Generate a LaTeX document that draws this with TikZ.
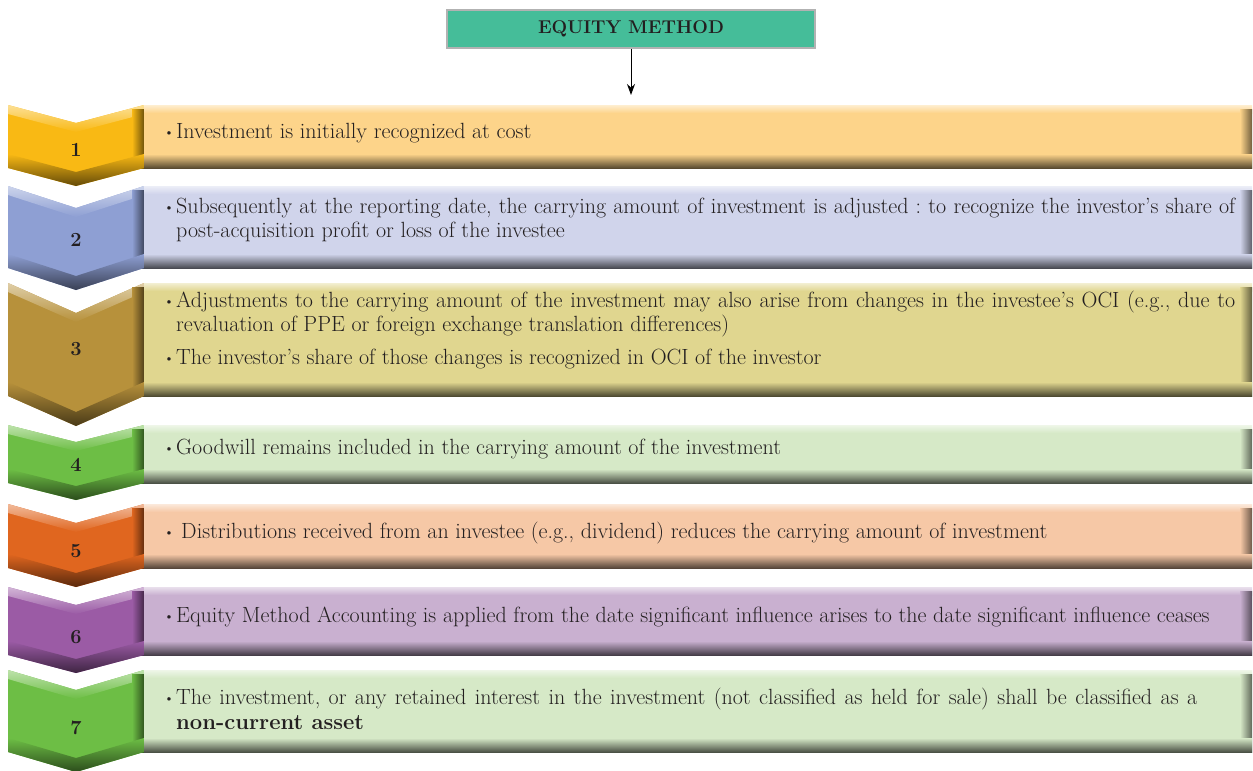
\documentclass[tikz,border=0pt]{standalone}
\usepackage{fontspec}
\usepackage{tikz}
\usetikzlibrary{arrows.meta}

\definecolor{eqgreen}{HTML}{45BD99}
\definecolor{txtgray}{HTML}{231F20}
\definecolor{chevone}{HTML}{F9B914}
\definecolor{boxone}{HTML}{FDD48A}
\definecolor{chevtwo}{HTML}{8E9FD3}
\definecolor{boxtwo}{HTML}{D0D4EB}
\definecolor{chevthree}{HTML}{B7913B}
\definecolor{boxthree}{HTML}{E0D68F}
\definecolor{chevfour}{HTML}{6DBE45}
\definecolor{boxfour}{HTML}{D6E9C7}
\definecolor{chevfive}{HTML}{E0661F}
\definecolor{boxfive}{HTML}{F6C8A6}
\definecolor{chevsix}{HTML}{9B5BA5}
\definecolor{boxsix}{HTML}{C9B0D0}

\newcommand{\bul}{\hangindent=13pt\hangafter=1\noindent
  \makebox[13pt][l]{\hspace{1pt}\raisebox{2pt}{\fontsize{13}{13}\selectfont\textbullet}}}

\tikzset{
  headbox/.style={draw=gray!60,line width=1.5pt,fill=eqgreen,minimum width=368pt,minimum height=38pt,
    inner sep=0pt,text=txtgray,font=\fontsize{18.5}{20}\selectfont\bfseries},
  itemtext/.style={anchor=west,inner sep=0pt,text width=1072pt,align=justify,text=txtgray,
    font=\fontsize{22}{24.5}\selectfont\frenchspacing},
  numtext/.style={text=txtgray,font=\fontsize{20}{22}\selectfont\bfseries}
}

\begin{document}
\begin{tikzpicture}[x=1pt,y=-1pt]
  \useasboundingbox (0,0) rectangle (1253,771);
  %\draw[color=gray,step=10pt,help lines,opacity=0.3] (0,0) grid (1253,771); %help grid
  \node[headbox] (eq) at (631,29) {EQUITY METHOD};
  \coordinate (arrowend) at (631,95);
  \draw[-{Stealth[length=11pt,width=8pt]},line width=1pt] (eq) -- (arrowend);
  % chevrons and bars
  \foreach \ya/\yb/\dd/\cA/\cB in {105/168/18/chevone/boxone,186/268/22/chevtwo/boxtwo,
      283/396/30/chevthree/boxthree,425/483/17/chevfour/boxfour,504/568/19/chevfive/boxfive,
      587/655/18/chevsix/boxsix,670/752/20/chevfour/boxfour}{
    \fill[\cA] (8,\ya) -- (76,{\ya+\dd}) -- (144,\ya) -- (144,\yb) -- (76,{\yb+\dd}) -- (8,\yb) -- cycle;
    \shade[top color=\cA!45!white,bottom color=\cA] (8,\ya) -- (76,{\ya+\dd}) -- (144,\ya)
      -- (144,{\ya+9}) -- (76,{\ya+\dd+9}) -- (8,{\ya+9}) -- cycle;
    \shade[left color=\cA,right color=\cA!45!black] (132,{\ya+4}) rectangle (144,\yb);
    \shade[top color=\cA,bottom color=\cA!40!black] (8,{\yb-14}) -- (76,{\yb+\dd-14}) -- (144,{\yb-14})
      -- (144,\yb) -- (76,{\yb+\dd}) -- (8,\yb) -- cycle;
    \fill[\cB] (144,\ya) rectangle (1252,\yb);
    \shade[top color=\cB!40!white,bottom color=\cB] (144,\ya) rectangle (1252,{\ya+8});
    \shade[left color=\cB,right color=\cB!45!black] (1240,{\ya+4}) rectangle (1252,\yb);
    \shade[top color=\cB,bottom color=\cB!35!black] (144,{\yb-14}) rectangle (1252,\yb);
  }
  % numbers
  \node[numtext] (n1) at (76,150) {1};
  \node[numtext] (n2) at (76,240) {2};
  \node[numtext] (n3) at (76,349) {3};
  \node[numtext] (n4) at (76,465) {4};
  \node[numtext] (n5) at (76,551) {5};
  \node[numtext] (n6) at (76,637) {6};
  \node[numtext] (n7) at (76,728) {7};
  % texts
  \node[itemtext] (t1) at (163,133) {\bul Investment is initially recognized at cost\par};
  \node[itemtext] (t2) at (163,220) {\bul Subsequently at the reporting date, the carrying amount of investment is adjusted : to recognize the investor’s share of\linebreak post-acquisition profit or loss of the investee\par};
  \node[itemtext] (t3) at (163,330) {\bul Adjustments to the carrying amount of the investment may also arise from changes in the investee’s OCI (e.g., due to\linebreak revaluation of PPE or foreign exchange translation differences)\par\vspace{8pt}
    \bul The investor’s share of those changes is recognized in OCI of the investor\par};
  \node[itemtext] (t4) at (163,449) {\bul Goodwill remains included in the carrying amount of the investment\par};
  \node[itemtext] (t5) at (163,533) {\bul\hspace{5pt}Distributions received from an investee (e.g., dividend) reduces the carrying amount of investment\par};
  \node[itemtext] (t6) at (163,617) {\bul Equity Method Accounting is applied from the date significant influence arises to the date significant influence ceases\par};
  \node[itemtext,text width=1034pt] (t7) at (163,709) {\bul The investment, or any retained interest in the investment (not classified as held for sale) shall be classified as a\linebreak \textbf{non-current asset}\par};
\end{tikzpicture}
\end{document}
